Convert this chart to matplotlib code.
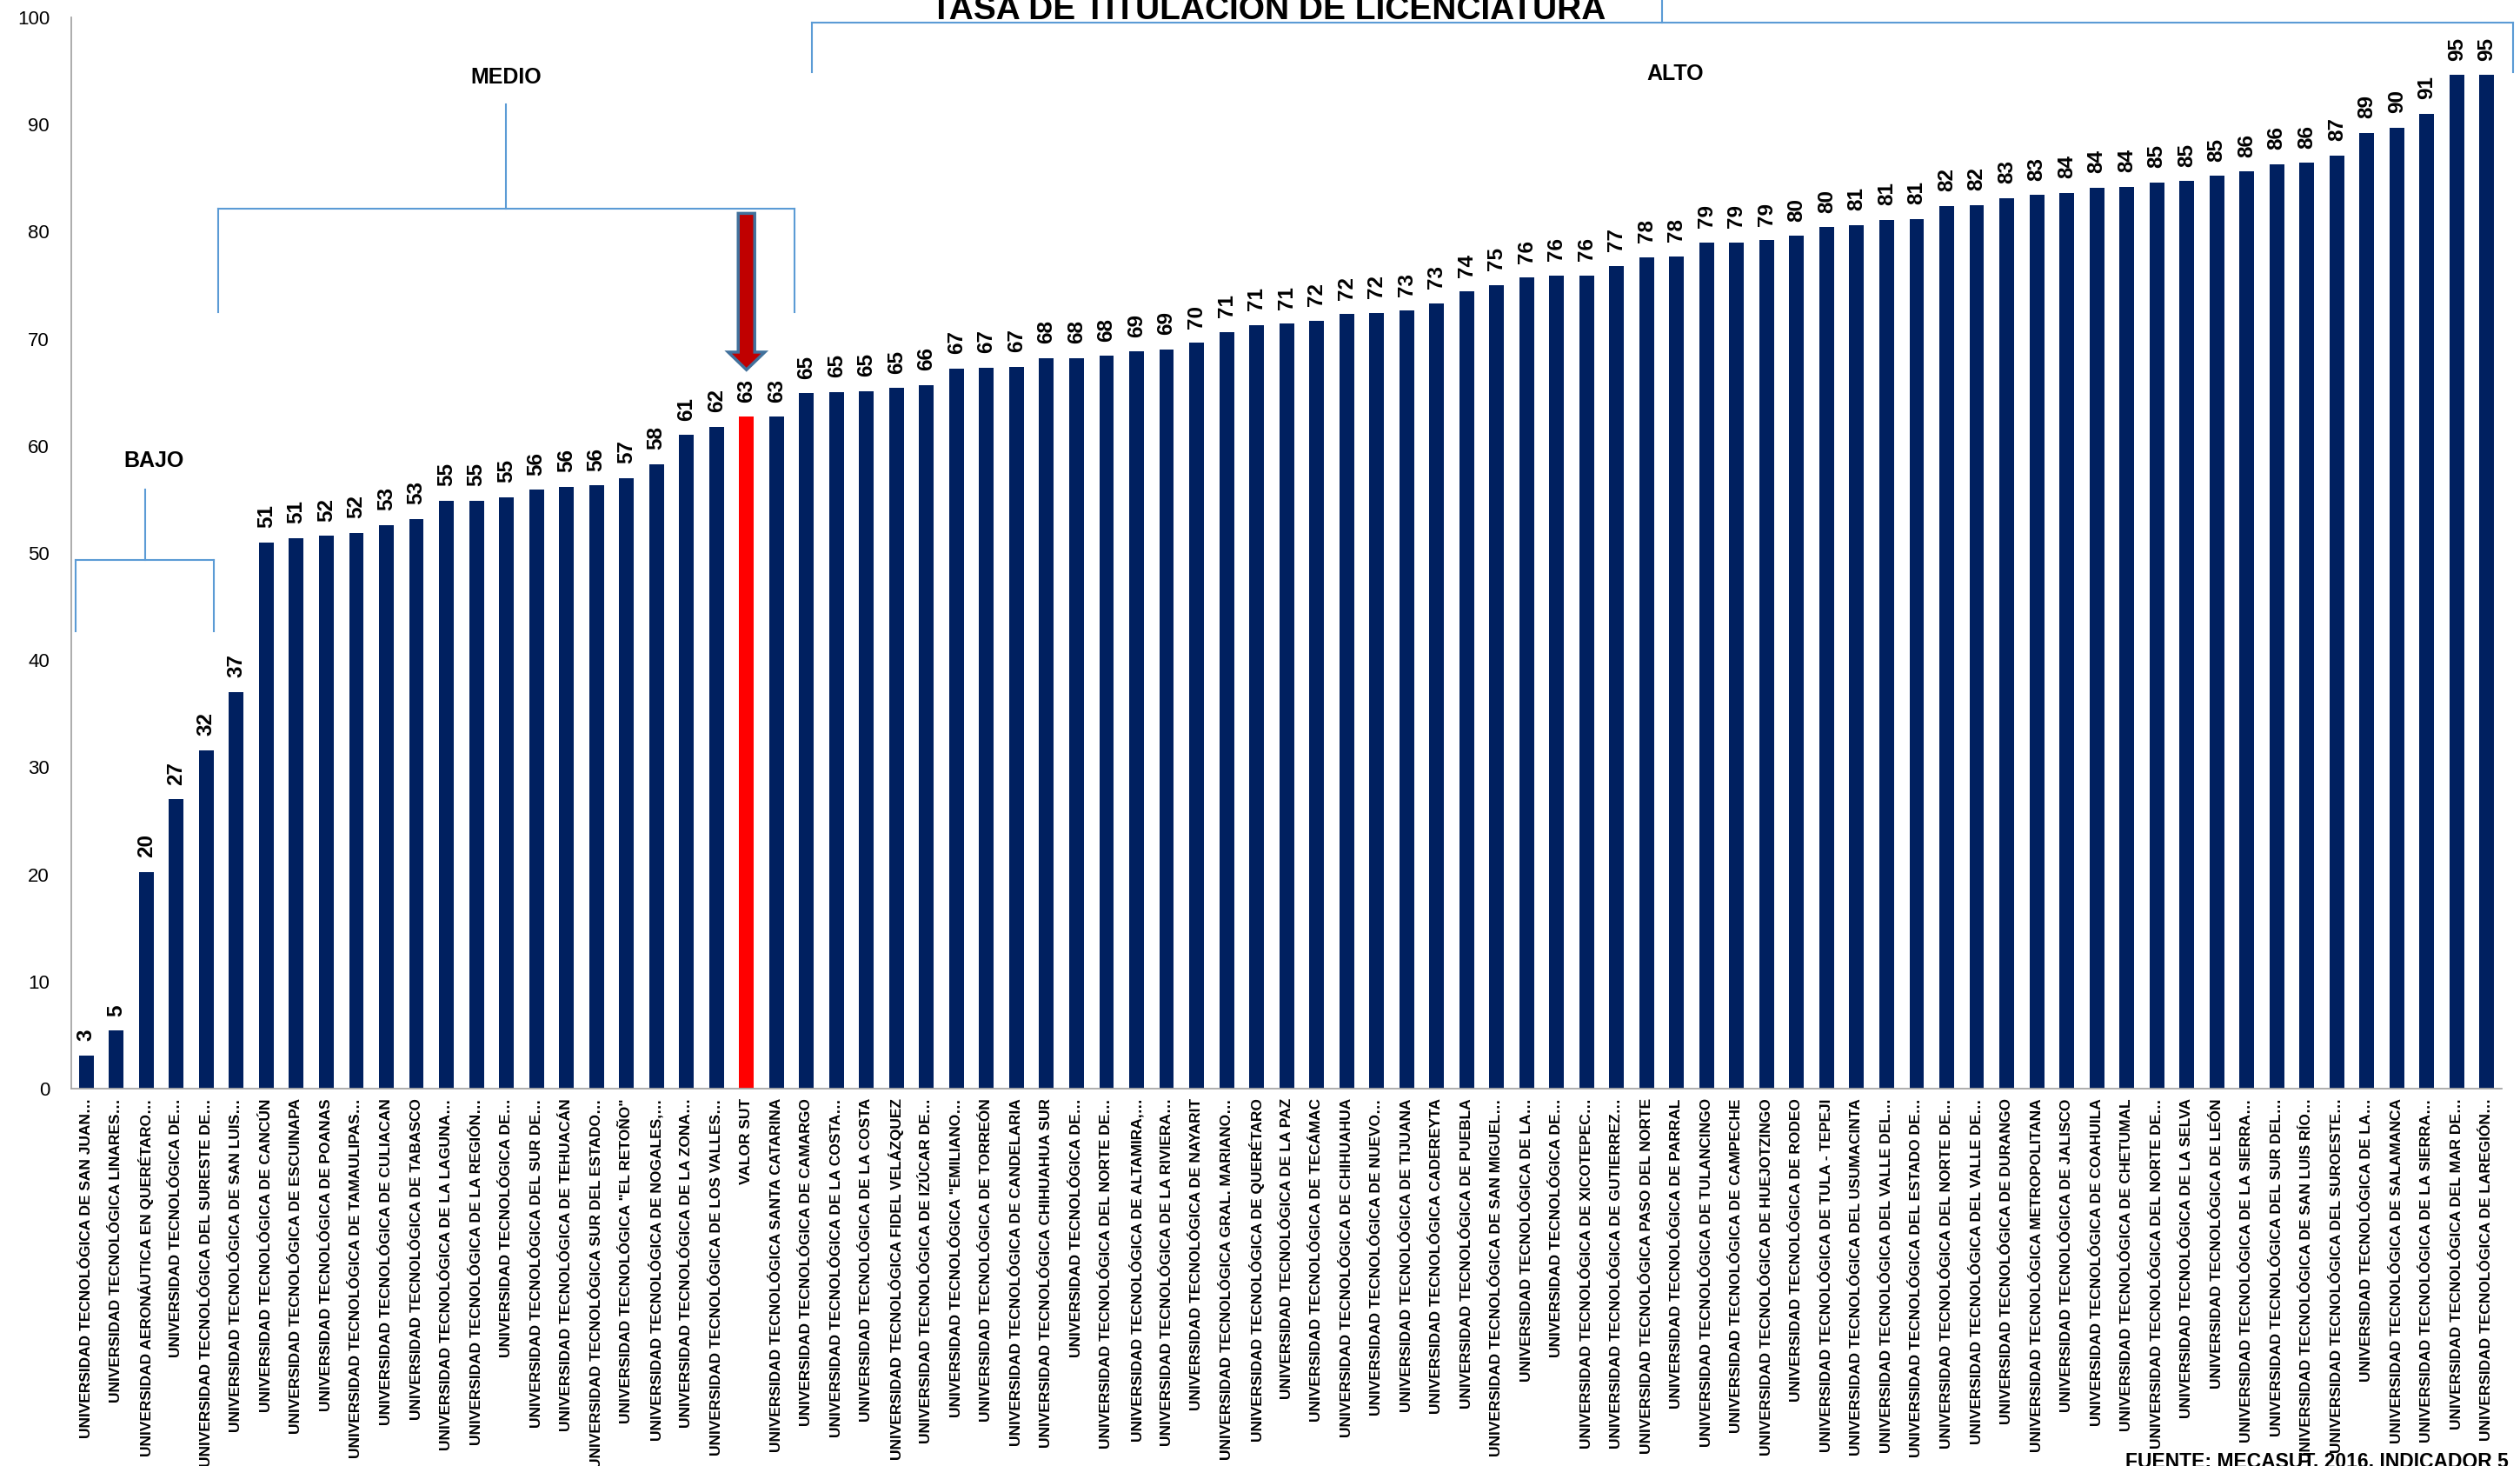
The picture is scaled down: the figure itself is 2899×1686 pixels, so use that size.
import matplotlib
matplotlib.use("Agg")
import matplotlib.pyplot as plt
from matplotlib.patches import FancyArrow

plt.rcParams['font.family'] = ['Liberation Sans Narrow', 'Liberation Sans', 'DejaVu Sans']

categories = [
    "UNIVERSIDAD TECNOLÓGICA DE SAN JUAN…",
    "UNIVERSIDAD TECNOLÓGICA LINARES…",
    "UNIVERSIDAD AERONÁUTICA EN QUERÉTARO…",
    "UNIVERSIDAD TECNOLÓGICA DE…",
    "UNIVERSIDAD TECNOLÓGICA DEL SURESTE DE…",
    "UNIVERSIDAD TECNOLÓGICA DE SAN LUIS…",
    "UNIVERSIDAD TECNOLÓGICA DE CANCÚN",
    "UNIVERSIDAD TECNOLÓGICA DE ESCUINAPA",
    "UNIVERSIDAD TECNOLÓGICA DE POANAS",
    "UNIVERSIDAD TECNOLÓGICA DE TAMAULIPAS…",
    "UNIVERSIDAD TECNOLÓGICA DE CULIACAN",
    "UNIVERSIDAD TECNOLÓGICA DE TABASCO",
    "UNIVERSIDAD TECNOLÓGICA DE LA LAGUNA…",
    "UNIVERSIDAD TECNOLÓGICA DE LA REGIÓN…",
    "UNIVERSIDAD TECNOLÓGICA DE…",
    "UNIVERSIDAD TECNOLÓGICA DEL SUR DE…",
    "UNIVERSIDAD TECNOLÓGICA DE TEHUACÁN",
    "UNIVERSIDAD TECNOLÓGICA SUR DEL ESTADO…",
    'UNIVERSIDAD TECNOLÓGICA "EL RETOÑO"',
    "UNIVERSIDAD TECNOLÓGICA DE NOGALES,…",
    "UNIVERSIDAD TECNOLÓGICA DE LA ZONA…",
    "UNIVERSIDAD TECNOLÓGICA DE LOS VALLES…",
    "VALOR SUT",
    "UNIVERSIDAD TECNOLÓGICA SANTA CATARINA",
    "UNIVERSIDAD TECNOLÓGICA DE CAMARGO",
    "UNIVERSIDAD TECNOLÓGICA DE LA COSTA…",
    "UNIVERSIDAD TECNOLÓGICA DE LA COSTA",
    "UNIVERSIDAD TECNOLÓGICA FIDEL VELÁZQUEZ",
    "UNIVERSIDAD TECNOLÓGICA DE IZÚCAR DE…",
    'UNIVERSIDAD TECNOLÓGICA "EMILIANO…',
    "UNIVERSIDAD TECNOLÓGICA DE TORREÓN",
    "UNIVERSIDAD TECNOLÓGICA DE CANDELARIA",
    "UNIVERSIDAD TECNOLÓGICA CHIHUAHUA SUR",
    "UNIVERSIDAD TECNOLÓGICA DE…",
    "UNIVERSIDAD TECNOLÓGICA DEL NORTE DE…",
    "UNIVERSIDAD TECNOLÓGICA DE ALTAMIRA,…",
    "UNIVERSIDAD TECNOLÓGICA DE LA RIVIERA…",
    "UNIVERSIDAD TECNOLÓGICA DE NAYARIT",
    "UNIVERSIDAD TECNOLÓGICA GRAL. MARIANO…",
    "UNIVERSIDAD TECNOLÓGICA DE QUERÉTARO",
    "UNIVERSIDAD TECNOLÓGICA DE LA PAZ",
    "UNIVERSIDAD TECNOLÓGICA DE TECÁMAC",
    "UNIVERSIDAD TECNOLÓGICA DE CHIHUAHUA",
    "UNIVERSIDAD TECNOLÓGICA DE NUEVO…",
    "UNIVERSIDAD TECNOLÓGICA DE TIJUANA",
    "UNIVERSIDAD TECNOLÓGICA CADEREYTA",
    "UNIVERSIDAD TECNOLÓGICA DE PUEBLA",
    "UNIVERSIDAD TECNOLÓGICA DE SAN MIGUEL…",
    "UNIVERSIDAD TECNOLÓGICA DE LA…",
    "UNIVERSIDAD TECNOLÓGICA DE…",
    "UNIVERSIDAD TECNOLÓGICA DE XICOTEPEC…",
    "UNIVERSIDAD TECNOLÓGICA DE GUTIERREZ…",
    "UNIVERSIDAD TECNOLÓGICA PASO DEL NORTE",
    "UNIVERSIDAD TECNOLÓGICA DE PARRAL",
    "UNIVERSIDAD TECNOLÓGICA DE TULANCINGO",
    "UNIVERSIDAD TECNOLÓGICA DE CAMPECHE",
    "UNIVERSIDAD TECNOLÓGICA DE HUEJOTZINGO",
    "UNIVERSIDAD TECNOLÓGICA DE RODEO",
    "UNIVERSIDAD TECNOLÓGICA DE TULA - TEPEJI",
    "UNIVERSIDAD TECNOLÓGICA DEL USUMACINTA",
    "UNIVERSIDAD TECNOLÓGICA DEL VALLE DEL…",
    "UNIVERSIDAD TECNOLÓGICA DEL ESTADO DE…",
    "UNIVERSIDAD TECNOLÓGICA DEL NORTE DE…",
    "UNIVERSIDAD TECNOLÓGICA DEL VALLE DE…",
    "UNIVERSIDAD TECNOLÓGICA DE DURANGO",
    "UNIVERSIDAD TECNOLÓGICA METROPOLITANA",
    "UNIVERSIDAD TECNOLÓGICA DE JALISCO",
    "UNIVERSIDAD TECNOLÓGICA DE COAHUILA",
    "UNIVERSIDAD TECNOLÓGICA DE CHETUMAL",
    "UNIVERSIDAD TECNOLÓGICA DEL NORTE DE…",
    "UNIVERSIDAD TECNOLÓGICA DE LA SELVA",
    "UNIVERSIDAD TECNOLÓGICA DE LEÓN",
    "UNIVERSIDAD TECNOLÓGICA DE LA SIERRA…",
    "UNIVERSIDAD TECNOLÓGICA DEL SUR DEL…",
    "UNIVERSIDAD TECNOLÓGICA DE SAN LUIS RÍO…",
    "UNIVERSIDAD TECNOLÓGICA DEL SUROESTE…",
    "UNIVERSIDAD TECNOLÓGICA DE LA…",
    "UNIVERSIDAD TECNOLÓGICA DE SALAMANCA",
    "UNIVERSIDAD TECNOLÓGICA DE LA SIERRA…",
    "UNIVERSIDAD TECNOLÓGICA DEL MAR DE…",
    "UNIVERSIDAD TECNOLÓGICA DE LAREGIÓN…",
]

values = [
    3.1, 5.4, 20.2, 27.0, 31.6, 37.0, 51.0, 51.4, 51.6, 51.9,
    52.6, 53.2, 54.9, 54.9, 55.2, 55.9, 56.2, 56.3, 57.0, 58.3,
    61.0, 61.8, 62.7, 62.7, 64.9, 65.0, 65.1, 65.4, 65.7, 67.2,
    67.3, 67.4, 68.2, 68.2, 68.4, 68.8, 69.0, 69.6, 70.6, 71.3,
    71.4, 71.7, 72.3, 72.4, 72.6, 73.3, 74.4, 75.0, 75.7, 75.9,
    75.9, 76.8, 77.6, 77.7, 79.0, 79.0, 79.2, 79.6, 80.4, 80.6,
    81.1, 81.2, 82.4, 82.5, 83.1, 83.4, 83.6, 84.1, 84.2, 84.6,
    84.7, 85.2, 85.6, 86.3, 86.4, 87.1, 89.2, 89.7, 91.0, 94.6, 94.6,
]

highlight = "VALOR SUT"
yticks = list(range(0, 101, 10))

navy = "#002060"
bracket_blue = "#5B9BD5"

fig = plt.figure(figsize=(28.99, 16.86), dpi=100)
ax = fig.add_axes([0.0283, 0.2574, 0.9645, 0.7308])

x = list(range(len(categories)))
colors = ["#FF0000" if c == highlight else navy for c in categories]
bars = ax.bar(x, values, width=0.49, color=colors, edgecolor="none")
ax.bar_label(bars, fmt="%.0f", rotation=90, padding=12,
             fontsize=17.5, fontweight="bold", color="black")

ax.set_xlim(-0.5, len(categories) - 0.5)
ax.set_ylim(0, 100)
ax.set_yticks(yticks)
ax.set_xticks(x)
ax.set_xticklabels(categories, rotation=90, fontsize=12.5, fontweight="bold")
ax.tick_params(axis="x", length=0, pad=8)
ax.tick_params(axis="y", length=0, pad=18, labelsize=16)

for s in ["top", "right"]:
    ax.spines[s].set_visible(False)
for s in ["left", "bottom"]:
    ax.spines[s].set_color("#A6A6A6")
    ax.spines[s].set_linewidth(1.3)


def bracket(x0, x1, y_bar, y_leg, stem_x, stem_top):
    kw = dict(color=bracket_blue, lw=1.5, clip_on=False)
    ax.plot([x0, x1], [y_bar, y_bar], **kw)
    ax.plot([x0, x0], [y_bar, y_leg], **kw)
    ax.plot([x1, x1], [y_bar, y_leg], **kw)
    ax.plot([stem_x, stem_x], [y_bar, stem_top], **kw)


# group brackets
bracket(-0.36, 4.25, 49.35, 42.7, 1.96, 55.9)
bracket(4.39, 23.59, 82.1, 72.5, 13.98, 91.9)
bracket(24.17, 80.88, 99.5, 94.9, 52.5, 103)

lbl = dict(fontsize=18, fontweight="bold", ha="center", va="center")
ax.text(2.25, 58.6, "BAJO", **lbl)
ax.text(13.98, 94.4, "MEDIO", **lbl)
ax.text(52.95, 94.7, "ALTO", **lbl)

# arrow pointing at the SUT bar
sut = categories.index(highlight)
arrow = FancyArrow(sut, 81.7, 0, -14.6, width=0.55, head_width=1.22,
                   head_length=1.65, length_includes_head=True,
                   fc="#C00000", ec="#41719C", lw=2.5, clip_on=False)
ax.add_patch(arrow)

fig.text(0.5035, 1 - 22 / 1686, "TASA DE TITULACIÓN DE LICENCIATURA",
         fontsize=28, fontweight="bold", ha="center", va="baseline")
fig.text(2445 / 2899, -0.001, "FUENTE: MECASUT, 2016, INDICADOR 5",
         fontsize=16.5, fontweight="bold", ha="left", va="baseline")

fig.savefig("out.png", dpi=100)
